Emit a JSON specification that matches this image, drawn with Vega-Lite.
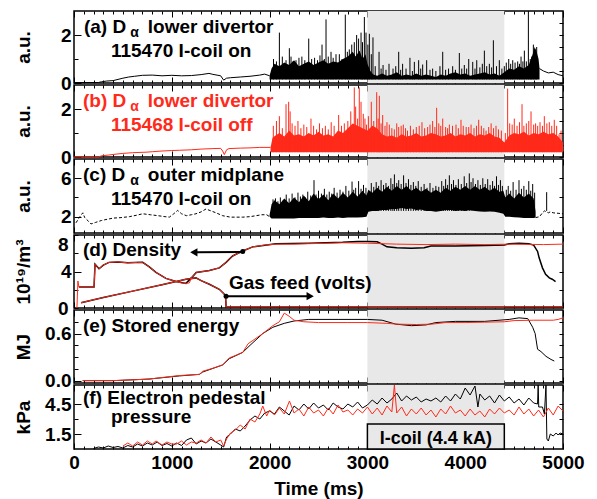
{
"$schema":"https://vega.github.io/schema/vega-lite/v6.json",
"padding":{"left":13,"top":9,"right":5,"bottom":5},
"bounds":"flush",
"spacing":2,
"config":{"view":{"stroke":"#000","strokeWidth":1.5},"font":"Liberation Sans",
"axis":{"labelFont":"Liberation Sans","labelFontSize":19,"labelFontWeight":"bold","labelColor":"#000","titleFont":"Liberation Sans","titleFontSize":19,"titleFontWeight":"bold","titleColor":"#000","domain":false,"grid":false,"tickColor":"#000","tickWidth":1,"labelOverlap":false,"labelFlush":false}},
"datasets":{
"a_ln":[{"t":0,"v":0.02,"g":1},{"t":250,"v":0.02,"g":1},{"t":280,"v":0.05,"g":1},{"t":330,"v":0.08,"g":1},{"t":400,"v":0.1,"g":1},{"t":450,"v":0.15,"g":1},{"t":500,"v":0.2,"g":1},{"t":560,"v":0.25,"g":1},{"t":620,"v":0.28,"g":1},{"t":700,"v":0.32,"g":1},{"t":800,"v":0.33,"g":1},{"t":900,"v":0.3,"g":1},{"t":1000,"v":0.32,"g":1},{"t":1100,"v":0.3,"g":1},{"t":1200,"v":0.31,"g":1},{"t":1300,"v":0.35,"g":1},{"t":1380,"v":0.4,"g":1},{"t":1420,"v":0.36,"g":1},{"t":1500,"v":0.3,"g":1},{"t":1530,"v":0.12,"g":1},{"t":1560,"v":0.2,"g":1},{"t":1600,"v":0.22,"g":1},{"t":1700,"v":0.25,"g":1},{"t":1800,"v":0.28,"g":1},{"t":1900,"v":0.33,"g":1},{"t":1950,"v":0.37,"g":1},{"t":2000,"v":0.3,"g":1},{"t":4760,"v":0.6,"g":2},{"t":4800,"v":0.5,"g":2},{"t":4850,"v":0.42,"g":2},{"t":4900,"v":0.45,"g":2},{"t":4950,"v":0.35,"g":2},{"t":5000,"v":0.3,"g":2}],
"a_bd":[{"t":2000,"v":0.3},{"t":2020,"v":0.6},{"t":2050,"v":0.8},{"t":2100,"v":0.7},{"t":2150,"v":0.85},{"t":2200,"v":0.75},{"t":2250,"v":0.95},{"t":2300,"v":0.7},{"t":2350,"v":0.8},{"t":2400,"v":0.9},{"t":2450,"v":0.75},{"t":2500,"v":0.85},{"t":2550,"v":0.95},{"t":2600,"v":0.8},{"t":2650,"v":0.9},{"t":2700,"v":0.85},{"t":2750,"v":1.0},{"t":2800,"v":1.1},{"t":2850,"v":1.3},{"t":2880,"v":1.1},{"t":2920,"v":1.35},{"t":2950,"v":1.0},{"t":2980,"v":1.2},{"t":3000,"v":0.8},{"t":3030,"v":0.5},{"t":3060,"v":0.35},{"t":3100,"v":0.3},{"t":3150,"v":0.4},{"t":3200,"v":0.3},{"t":3250,"v":0.35},{"t":3300,"v":0.45},{"t":3350,"v":0.3},{"t":3400,"v":0.35},{"t":3450,"v":0.3},{"t":3500,"v":0.4},{"t":3550,"v":0.3},{"t":3600,"v":0.35},{"t":3650,"v":0.3},{"t":3700,"v":0.25},{"t":3750,"v":0.35},{"t":3800,"v":0.3},{"t":3850,"v":0.4},{"t":3900,"v":0.45},{"t":3950,"v":0.35},{"t":4000,"v":0.4},{"t":4050,"v":0.3},{"t":4100,"v":0.35},{"t":4150,"v":0.4},{"t":4200,"v":0.45},{"t":4250,"v":0.35},{"t":4300,"v":0.4},{"t":4350,"v":0.3},{"t":4400,"v":0.45},{"t":4450,"v":0.6},{"t":4500,"v":0.55},{"t":4550,"v":0.7},{"t":4600,"v":0.6},{"t":4650,"v":0.75},{"t":4690,"v":1.2},{"t":4710,"v":1.5},{"t":4730,"v":1.3},{"t":4750,"v":1.0},{"t":4760,"v":0.6}],
"a_sp":[{"t":2040,"h":1.0},{"t":2070,"h":0.9},{"t":2100,"h":2.1},{"t":2130,"h":1.1},{"t":2168,"h":0.95},{"t":2202,"h":1.45},{"t":2219,"h":1.1},{"t":2240,"h":0.9},{"t":2270,"h":0.95},{"t":2300,"h":1.05},{"t":2330,"h":1.1},{"t":2360,"h":0.95},{"t":2400,"h":1.85},{"t":2430,"h":1.0},{"t":2460,"h":1.05},{"t":2490,"h":0.95},{"t":2515,"h":1.15},{"t":2536,"h":1.6},{"t":2560,"h":1.0},{"t":2577,"h":2.65},{"t":2600,"h":1.1},{"t":2628,"h":1.3},{"t":2650,"h":1.05},{"t":2679,"h":1.2},{"t":2713,"h":1.2},{"t":2740,"h":1.0},{"t":2774,"h":2.85},{"t":2795,"h":1.3},{"t":2815,"h":1.4},{"t":2840,"h":1.6},{"t":2866,"h":1.7},{"t":2890,"h":2.0},{"t":2910,"h":1.85},{"t":2935,"h":2.1},{"t":2950,"h":1.7},{"t":2969,"h":2.75},{"t":2986,"h":2.1},{"t":3005,"h":1.6},{"t":3020,"h":2.05},{"t":3040,"h":1.2},{"t":3057,"h":1.9},{"t":3080,"h":0.7},{"t":3119,"h":1.3},{"t":3140,"h":0.6},{"t":3160,"h":0.75},{"t":3190,"h":0.55},{"t":3221,"h":0.8},{"t":3262,"h":0.6},{"t":3290,"h":0.7},{"t":3320,"h":1.3},{"t":3340,"h":0.55},{"t":3360,"h":0.8},{"t":3395,"h":0.6},{"t":3435,"h":1.05},{"t":3460,"h":0.5},{"t":3480,"h":0.88},{"t":3524,"h":0.95},{"t":3545,"h":0.6},{"t":3565,"h":0.77},{"t":3606,"h":0.95},{"t":3640,"h":0.55},{"t":3667,"h":0.6},{"t":3700,"h":0.5},{"t":3742,"h":0.7},{"t":3770,"h":1.3},{"t":3800,"h":0.55},{"t":3830,"h":0.6},{"t":3872,"h":0.7},{"t":3900,"h":0.55},{"t":3940,"h":1.25},{"t":3965,"h":0.6},{"t":3991,"h":0.75},{"t":4015,"h":0.6},{"t":4036,"h":1.0},{"t":4077,"h":0.88},{"t":4100,"h":0.6},{"t":4118,"h":0.95},{"t":4150,"h":0.65},{"t":4175,"h":0.8},{"t":4196,"h":1.35},{"t":4220,"h":0.7},{"t":4247,"h":0.8},{"t":4270,"h":0.65},{"t":4288,"h":1.78},{"t":4320,"h":0.7},{"t":4349,"h":0.95},{"t":4375,"h":0.6},{"t":4400,"h":0.7},{"t":4420,"h":0.85},{"t":4445,"h":1.0},{"t":4465,"h":0.8},{"t":4486,"h":0.95},{"t":4510,"h":0.85},{"t":4537,"h":0.9},{"t":4555,"h":0.8},{"t":4571,"h":1.1},{"t":4590,"h":0.9},{"t":4605,"h":1.35},{"t":4625,"h":0.9},{"t":4646,"h":3.0},{"t":4665,"h":1.0},{"t":4680,"h":1.1},{"t":4697,"h":1.6},{"t":4715,"h":1.4},{"t":4731,"h":1.5}],
"b_ln":[{"t":0,"v":0.0},{"t":250,"v":0.0},{"t":280,"v":0.05},{"t":350,"v":0.08},{"t":430,"v":0.12},{"t":500,"v":0.15},{"t":600,"v":0.18},{"t":736,"v":0.2},{"t":800,"v":0.22},{"t":900,"v":0.25},{"t":1000,"v":0.27},{"t":1077,"v":0.28},{"t":1200,"v":0.3},{"t":1300,"v":0.33},{"t":1420,"v":0.35},{"t":1500,"v":0.36},{"t":1520,"v":0.25},{"t":1537,"v":0.1},{"t":1560,"v":0.3},{"t":1585,"v":0.35},{"t":1700,"v":0.37},{"t":1800,"v":0.38},{"t":1900,"v":0.4},{"t":2010,"v":0.4}],
"b_bd":[{"t":2010,"v":0.4},{"t":2030,"v":0.8},{"t":2060,"v":0.9},{"t":2100,"v":1.0},{"t":2150,"v":0.85},{"t":2200,"v":1.1},{"t":2250,"v":0.9},{"t":2300,"v":0.95},{"t":2350,"v":0.85},{"t":2400,"v":1.0},{"t":2450,"v":0.9},{"t":2500,"v":1.05},{"t":2550,"v":0.9},{"t":2600,"v":0.95},{"t":2650,"v":0.85},{"t":2700,"v":1.1},{"t":2750,"v":1.0},{"t":2800,"v":1.2},{"t":2850,"v":1.4},{"t":2900,"v":1.3},{"t":2950,"v":1.2},{"t":3000,"v":1.1},{"t":3050,"v":1.3},{"t":3100,"v":1.2},{"t":3150,"v":0.95},{"t":3200,"v":0.85},{"t":3250,"v":0.9},{"t":3300,"v":0.8},{"t":3350,"v":0.95},{"t":3400,"v":0.85},{"t":3450,"v":0.9},{"t":3500,"v":1.0},{"t":3550,"v":0.85},{"t":3600,"v":0.9},{"t":3650,"v":1.0},{"t":3700,"v":0.95},{"t":3750,"v":0.85},{"t":3800,"v":0.9},{"t":3850,"v":1.0},{"t":3900,"v":0.85},{"t":3950,"v":0.95},{"t":4000,"v":0.9},{"t":4050,"v":1.0},{"t":4100,"v":0.85},{"t":4150,"v":0.95},{"t":4200,"v":0.9},{"t":4250,"v":1.0},{"t":4300,"v":0.85},{"t":4350,"v":0.8},{"t":4400,"v":0.6},{"t":4450,"v":0.9},{"t":4500,"v":1.0},{"t":4550,"v":0.95},{"t":4600,"v":1.05},{"t":4650,"v":0.9},{"t":4700,"v":1.0},{"t":4750,"v":0.95},{"t":4800,"v":1.05},{"t":4850,"v":0.95},{"t":4900,"v":1.0},{"t":4950,"v":0.85},{"t":5000,"v":0.6}],
"b_sp":[{"t":2038,"h":1.3},{"t":2070,"h":1.5},{"t":2100,"h":1.7},{"t":2130,"h":1.2},{"t":2168,"h":2.2},{"t":2195,"h":2.3},{"t":2210,"h":1.9},{"t":2230,"h":1.4},{"t":2260,"h":1.3},{"t":2290,"h":1.5},{"t":2320,"h":1.2},{"t":2350,"h":1.35},{"t":2380,"h":1.25},{"t":2423,"h":1.6},{"t":2450,"h":1.3},{"t":2480,"h":1.15},{"t":2510,"h":1.4},{"t":2540,"h":1.2},{"t":2570,"h":1.3},{"t":2600,"h":1.15},{"t":2630,"h":1.45},{"t":2660,"h":1.3},{"t":2706,"h":1.75},{"t":2735,"h":1.3},{"t":2764,"h":1.4},{"t":2800,"h":1.5},{"t":2830,"h":1.9},{"t":2866,"h":2.9},{"t":2880,"h":2.1},{"t":2900,"h":1.6},{"t":2917,"h":2.9},{"t":2935,"h":2.3},{"t":2958,"h":1.8},{"t":2975,"h":1.6},{"t":2990,"h":1.35},{"t":3010,"h":1.7},{"t":3040,"h":2.3},{"t":3065,"h":1.5},{"t":3095,"h":2.7},{"t":3110,"h":1.6},{"t":3122,"h":2.55},{"t":3140,"h":1.4},{"t":3156,"h":1.75},{"t":3180,"h":1.3},{"t":3200,"h":1.45},{"t":3224,"h":1.35},{"t":3250,"h":1.2},{"t":3275,"h":1.15},{"t":3300,"h":1.4},{"t":3320,"h":1.25},{"t":3345,"h":1.3},{"t":3367,"h":1.35},{"t":3390,"h":1.2},{"t":3410,"h":1.1},{"t":3440,"h":1.3},{"t":3470,"h":1.15},{"t":3500,"h":1.25},{"t":3530,"h":1.3},{"t":3558,"h":1.45},{"t":3585,"h":1.2},{"t":3616,"h":1.25},{"t":3640,"h":1.35},{"t":3667,"h":1.5},{"t":3690,"h":1.25},{"t":3708,"h":2.05},{"t":3730,"h":1.4},{"t":3750,"h":1.3},{"t":3770,"h":1.6},{"t":3800,"h":1.25},{"t":3820,"h":1.2},{"t":3838,"h":1.35},{"t":3870,"h":1.3},{"t":3906,"h":1.35},{"t":3930,"h":1.2},{"t":3957,"h":1.55},{"t":3980,"h":1.3},{"t":4010,"h":1.25},{"t":4036,"h":1.25},{"t":4060,"h":1.35},{"t":4090,"h":1.2},{"t":4115,"h":1.3},{"t":4138,"h":1.55},{"t":4165,"h":1.3},{"t":4190,"h":1.2},{"t":4213,"h":1.1},{"t":4240,"h":1.25},{"t":4265,"h":1.4},{"t":4290,"h":1.2},{"t":4315,"h":1.3},{"t":4340,"h":1.15},{"t":4370,"h":1.1},{"t":4410,"h":1.0},{"t":4434,"h":2.85},{"t":4455,"h":1.4},{"t":4480,"h":1.35},{"t":4502,"h":1.6},{"t":4530,"h":1.3},{"t":4555,"h":1.45},{"t":4581,"h":2.2},{"t":4600,"h":1.3},{"t":4625,"h":1.4},{"t":4650,"h":1.5},{"t":4673,"h":1.9},{"t":4700,"h":1.35},{"t":4720,"h":1.4},{"t":4741,"h":1.3},{"t":4765,"h":1.45},{"t":4790,"h":1.3},{"t":4809,"h":1.7},{"t":4835,"h":1.4},{"t":4860,"h":1.45},{"t":4885,"h":1.3},{"t":4911,"h":1.55},{"t":4935,"h":1.3},{"t":4960,"h":0.95},{"t":4980,"h":1.1}],
"c_ln":[{"t":20,"v":1.36,"g":1},{"t":60,"v":2.0,"g":1},{"t":90,"v":2.4,"g":1},{"t":110,"v":1.9,"g":1},{"t":150,"v":1.5,"g":1},{"t":174,"v":1.24,"g":1},{"t":220,"v":1.4,"g":1},{"t":280,"v":1.6,"g":1},{"t":327,"v":1.7,"g":1},{"t":400,"v":1.85,"g":1},{"t":480,"v":1.9,"g":1},{"t":566,"v":2.0,"g":1},{"t":640,"v":2.15,"g":1},{"t":702,"v":2.3,"g":1},{"t":780,"v":2.2,"g":1},{"t":860,"v":2.1,"g":1},{"t":930,"v":2.0,"g":1},{"t":975,"v":1.95,"g":1},{"t":1020,"v":2.3,"g":1},{"t":1060,"v":2.65,"g":1},{"t":1100,"v":2.3,"g":1},{"t":1150,"v":2.1,"g":1},{"t":1200,"v":2.2,"g":1},{"t":1247,"v":2.3,"g":1},{"t":1300,"v":2.5,"g":1},{"t":1350,"v":2.8,"g":1},{"t":1400,"v":2.6,"g":1},{"t":1452,"v":2.4,"g":1},{"t":1520,"v":2.1,"g":1},{"t":1600,"v":1.95,"g":1},{"t":1725,"v":1.95,"g":1},{"t":1800,"v":2.0,"g":1},{"t":1861,"v":2.1,"g":1},{"t":1920,"v":2.2,"g":1},{"t":1970,"v":2.2,"g":1},{"t":2000,"v":2.0,"g":1},{"t":4720,"v":1.9,"g":2},{"t":4760,"v":2.0,"g":2},{"t":4790,"v":2.4,"g":2},{"t":4810,"v":2.6,"g":2},{"t":4830,"v":2.5,"g":2},{"t":4850,"v":2.4,"g":2},{"t":4870,"v":2.5,"g":2},{"t":4900,"v":2.4,"g":2},{"t":4950,"v":2.35,"g":2},{"t":5000,"v":2.3,"g":2}],
"c_bd":[{"t":2000,"lo":2.0,"hi":2.2},{"t":2020,"lo":1.8,"hi":3.3},{"t":2050,"lo":1.8,"hi":3.7},{"t":2100,"lo":1.8,"hi":3.3},{"t":2150,"lo":1.8,"hi":3.9},{"t":2200,"lo":1.8,"hi":3.4},{"t":2250,"lo":1.8,"hi":4.0},{"t":2300,"lo":1.85,"hi":3.5},{"t":2350,"lo":1.85,"hi":4.2},{"t":2400,"lo":1.85,"hi":3.6},{"t":2450,"lo":1.85,"hi":4.4},{"t":2500,"lo":1.85,"hi":3.8},{"t":2550,"lo":1.9,"hi":4.3},{"t":2600,"lo":1.85,"hi":3.7},{"t":2650,"lo":1.85,"hi":4.4},{"t":2700,"lo":1.9,"hi":3.9},{"t":2750,"lo":1.85,"hi":4.5},{"t":2800,"lo":1.9,"hi":4.0},{"t":2850,"lo":1.9,"hi":4.6},{"t":2900,"lo":1.9,"hi":4.1},{"t":2950,"lo":1.95,"hi":4.7},{"t":2990,"lo":2.0,"hi":4.2},{"t":3010,"lo":2.5,"hi":4.8},{"t":3050,"lo":2.6,"hi":4.5},{"t":3100,"lo":2.6,"hi":5.0},{"t":3150,"lo":2.7,"hi":4.6},{"t":3200,"lo":2.7,"hi":5.1},{"t":3250,"lo":2.8,"hi":4.7},{"t":3300,"lo":2.8,"hi":5.2},{"t":3350,"lo":2.9,"hi":4.8},{"t":3400,"lo":2.8,"hi":5.2},{"t":3450,"lo":2.85,"hi":4.7},{"t":3500,"lo":2.7,"hi":5.0},{"t":3550,"lo":2.75,"hi":4.6},{"t":3600,"lo":2.6,"hi":4.9},{"t":3650,"lo":2.6,"hi":4.5},{"t":3700,"lo":2.5,"hi":4.8},{"t":3750,"lo":2.6,"hi":4.5},{"t":3800,"lo":2.7,"hi":5.0},{"t":3850,"lo":2.7,"hi":4.7},{"t":3900,"lo":2.6,"hi":5.1},{"t":3950,"lo":2.65,"hi":4.8},{"t":4000,"lo":2.6,"hi":5.2},{"t":4050,"lo":2.7,"hi":4.8},{"t":4100,"lo":2.6,"hi":5.2},{"t":4150,"lo":2.55,"hi":4.8},{"t":4200,"lo":2.5,"hi":5.1},{"t":4250,"lo":2.55,"hi":4.7},{"t":4300,"lo":2.5,"hi":5.0},{"t":4350,"lo":2.4,"hi":4.6},{"t":4390,"lo":2.3,"hi":4.7},{"t":4410,"lo":2.0,"hi":4.0},{"t":4450,"lo":2.0,"hi":4.4},{"t":4500,"lo":1.95,"hi":3.9},{"t":4550,"lo":1.9,"hi":4.5},{"t":4600,"lo":1.85,"hi":4.0},{"t":4650,"lo":1.85,"hi":4.4},{"t":4700,"lo":1.85,"hi":3.9},{"t":4720,"lo":1.9,"hi":2.5}],
"c_sp":[{"t":2035,"h":3.8},{"t":2060,"h":3.9},{"t":2085,"h":3.6},{"t":2110,"h":4.0},{"t":2140,"h":3.7},{"t":2170,"h":4.3},{"t":2200,"h":3.9},{"t":2230,"h":4.4},{"t":2260,"h":4.0},{"t":2290,"h":4.5},{"t":2315,"h":4.1},{"t":2340,"h":4.3},{"t":2365,"h":4.0},{"t":2390,"h":4.6},{"t":2420,"h":4.2},{"t":2454,"h":5.8},{"t":2475,"h":4.3},{"t":2500,"h":4.7},{"t":2530,"h":4.4},{"t":2560,"h":4.9},{"t":2585,"h":4.3},{"t":2610,"h":4.6},{"t":2635,"h":4.4},{"t":2660,"h":5.0},{"t":2690,"h":4.5},{"t":2720,"h":4.8},{"t":2750,"h":4.6},{"t":2780,"h":5.2},{"t":2810,"h":4.7},{"t":2843,"h":5.65},{"t":2860,"h":4.8},{"t":2880,"h":5.0},{"t":2910,"h":5.7},{"t":2935,"h":4.9},{"t":2960,"h":5.3},{"t":2985,"h":5.0},{"t":3040,"h":5.5},{"t":3065,"h":5.1},{"t":3090,"h":5.6},{"t":3115,"h":5.2},{"t":3140,"h":5.8},{"t":3165,"h":5.3},{"t":3190,"h":5.5},{"t":3215,"h":5.2},{"t":3240,"h":6.0},{"t":3260,"h":5.4},{"t":3276,"h":6.4},{"t":3300,"h":5.5},{"t":3320,"h":5.8},{"t":3345,"h":5.4},{"t":3370,"h":6.3},{"t":3395,"h":5.5},{"t":3420,"h":5.9},{"t":3445,"h":5.3},{"t":3470,"h":5.6},{"t":3495,"h":5.2},{"t":3520,"h":5.7},{"t":3550,"h":5.1},{"t":3580,"h":5.4},{"t":3610,"h":5.0},{"t":3640,"h":5.5},{"t":3670,"h":5.0},{"t":3700,"h":5.2},{"t":3730,"h":5.1},{"t":3760,"h":5.7},{"t":3780,"h":5.2},{"t":3800,"h":5.9},{"t":3820,"h":5.3},{"t":3838,"h":6.3},{"t":3860,"h":5.4},{"t":3880,"h":5.8},{"t":3905,"h":5.3},{"t":3930,"h":5.9},{"t":3960,"h":5.4},{"t":3990,"h":6.2},{"t":4015,"h":5.5},{"t":4042,"h":6.5},{"t":4060,"h":5.6},{"t":4080,"h":6.0},{"t":4105,"h":5.4},{"t":4130,"h":5.8},{"t":4155,"h":5.3},{"t":4180,"h":6.0},{"t":4205,"h":5.4},{"t":4230,"h":5.9},{"t":4255,"h":5.3},{"t":4280,"h":5.7},{"t":4300,"h":5.2},{"t":4320,"h":6.2},{"t":4340,"h":5.3},{"t":4360,"h":5.8},{"t":4380,"h":5.2},{"t":4420,"h":4.8},{"t":4440,"h":5.2},{"t":4465,"h":4.7},{"t":4490,"h":5.6},{"t":4520,"h":4.8},{"t":4550,"h":5.8},{"t":4575,"h":4.9},{"t":4600,"h":5.2},{"t":4625,"h":4.8},{"t":4650,"h":5.7},{"t":4670,"h":4.7},{"t":4690,"h":5.4},{"t":4710,"h":4.5},{"t":4833,"h":4.55}],
"d_nr":[{"t":30,"v":0.0},{"t":40,"v":2.96},{"t":50,"v":2.3},{"t":205,"v":2.3},{"t":215,"v":4.8},{"t":256,"v":4.3},{"t":300,"v":4.7},{"t":358,"v":5.0},{"t":450,"v":5.05},{"t":550,"v":4.95},{"t":650,"v":5.0},{"t":702,"v":5.0},{"t":770,"v":4.5},{"t":838,"v":3.9},{"t":940,"v":3.25},{"t":1043,"v":2.9},{"t":1100,"v":2.75},{"t":1145,"v":2.7},{"t":1180,"v":2.75},{"t":1200,"v":3.3},{"t":1215,"v":3.5},{"t":1250,"v":3.9},{"t":1320,"v":4.0},{"t":1384,"v":4.1},{"t":1486,"v":4.4},{"t":1555,"v":5.0},{"t":1622,"v":5.7},{"t":1725,"v":6.25},{"t":1827,"v":6.7},{"t":1950,"v":6.9},{"t":2065,"v":7.0},{"t":2250,"v":7.0},{"t":2406,"v":7.05},{"t":2600,"v":7.1},{"t":2747,"v":7.15},{"t":3000,"v":7.1},{"t":3300,"v":7.0},{"t":3600,"v":6.95},{"t":3900,"v":7.0},{"t":4200,"v":6.95},{"t":4500,"v":7.0},{"t":4800,"v":6.95},{"t":5000,"v":7.0}],
"d_nk":[{"t":50,"v":2.3},{"t":205,"v":2.3},{"t":215,"v":4.8},{"t":256,"v":4.3},{"t":300,"v":4.7},{"t":358,"v":5.0},{"t":450,"v":5.05},{"t":550,"v":4.95},{"t":702,"v":5.0},{"t":770,"v":4.5},{"t":838,"v":3.9},{"t":940,"v":3.25},{"t":1043,"v":2.9},{"t":1145,"v":2.7},{"t":1200,"v":3.3},{"t":1250,"v":3.9},{"t":1384,"v":4.1},{"t":1486,"v":4.4},{"t":1555,"v":5.0},{"t":1622,"v":5.7},{"t":1725,"v":6.25},{"t":1827,"v":6.7},{"t":2065,"v":7.05},{"t":2406,"v":7.1},{"t":2747,"v":7.2},{"t":2900,"v":7.3},{"t":3000,"v":7.3},{"t":3100,"v":7.25},{"t":3150,"v":7.0},{"t":3200,"v":6.7},{"t":3300,"v":6.6},{"t":3450,"v":6.55},{"t":3580,"v":6.6},{"t":3650,"v":6.8},{"t":3900,"v":6.8},{"t":4200,"v":6.85},{"t":4400,"v":6.9},{"t":4450,"v":7.05},{"t":4550,"v":7.1},{"t":4650,"v":7.05},{"t":4700,"v":6.9},{"t":4740,"v":6.2},{"t":4756,"v":5.5},{"t":4790,"v":4.4},{"t":4822,"v":3.7},{"t":4860,"v":3.3},{"t":4890,"v":3.15},{"t":4924,"v":2.9}],
"d_g":[{"t":72,"v":0.58},{"t":300,"v":1.15},{"t":600,"v":1.85},{"t":900,"v":2.55},{"t":1145,"v":3.15},{"t":1247,"v":3.3},{"t":1300,"v":3.0},{"t":1384,"v":2.6},{"t":1486,"v":2.05},{"t":1537,"v":1.5},{"t":1550,"v":1.3},{"t":1555,"v":0.12},{"t":5000,"v":0.12}],
"e_r":[{"t":89,"v":0.0},{"t":395,"v":0.0},{"t":600,"v":0.01},{"t":767,"v":0.02},{"t":900,"v":0.04},{"t":1077,"v":0.065},{"t":1282,"v":0.08},{"t":1316,"v":0.12},{"t":1400,"v":0.15},{"t":1520,"v":0.2},{"t":1588,"v":0.29},{"t":1650,"v":0.32},{"t":1725,"v":0.36},{"t":1780,"v":0.47},{"t":1850,"v":0.53},{"t":1930,"v":0.6},{"t":2033,"v":0.7},{"t":2100,"v":0.75},{"t":2150,"v":0.86},{"t":2200,"v":0.82},{"t":2250,"v":0.77},{"t":2350,"v":0.75},{"t":2500,"v":0.74},{"t":2800,"v":0.74},{"t":3000,"v":0.74},{"t":3200,"v":0.73},{"t":3300,"v":0.72},{"t":3500,"v":0.715},{"t":3660,"v":0.72},{"t":3800,"v":0.74},{"t":4000,"v":0.74},{"t":4200,"v":0.745},{"t":4400,"v":0.75},{"t":4500,"v":0.765},{"t":4700,"v":0.77},{"t":4900,"v":0.77},{"t":4950,"v":0.78},{"t":5000,"v":0.8}],
"e_k":[{"t":89,"v":0.0},{"t":400,"v":0.0},{"t":767,"v":0.02},{"t":1077,"v":0.06},{"t":1282,"v":0.08},{"t":1316,"v":0.11},{"t":1520,"v":0.2},{"t":1588,"v":0.28},{"t":1725,"v":0.36},{"t":1800,"v":0.45},{"t":1930,"v":0.6},{"t":2033,"v":0.68},{"t":2150,"v":0.73},{"t":2250,"v":0.76},{"t":2400,"v":0.78},{"t":2700,"v":0.78},{"t":3000,"v":0.78},{"t":3150,"v":0.77},{"t":3290,"v":0.72},{"t":3450,"v":0.7},{"t":3600,"v":0.71},{"t":3700,"v":0.74},{"t":3900,"v":0.755},{"t":4200,"v":0.755},{"t":4450,"v":0.78},{"t":4550,"v":0.8},{"t":4640,"v":0.79},{"t":4690,"v":0.68},{"t":4715,"v":0.6},{"t":4740,"v":0.4},{"t":4775,"v":0.37},{"t":4826,"v":0.31},{"t":4877,"v":0.27},{"t":4911,"v":0.25}],
"f_k":[{"t":200,"v":0.05},{"t":250,"v":0.2},{"t":300,"v":0.1},{"t":350,"v":0.3},{"t":400,"v":0.15},{"t":450,"v":0.25},{"t":500,"v":0.1},{"t":550,"v":0.35},{"t":600,"v":0.2},{"t":650,"v":0.5},{"t":700,"v":0.3},{"t":750,"v":0.6},{"t":800,"v":0.4},{"t":850,"v":0.7},{"t":900,"v":0.35},{"t":950,"v":0.55},{"t":1000,"v":0.3},{"t":1050,"v":0.6},{"t":1100,"v":0.35},{"t":1150,"v":0.9},{"t":1200,"v":1.1},{"t":1250,"v":0.5},{"t":1300,"v":0.8},{"t":1350,"v":0.6},{"t":1400,"v":1.0},{"t":1450,"v":0.7},{"t":1500,"v":0.4},{"t":1530,"v":0.2},{"t":1560,"v":1.2},{"t":1600,"v":1.5},{"t":1650,"v":2.0},{"t":1700,"v":1.8},{"t":1750,"v":2.3},{"t":1800,"v":2.9},{"t":1850,"v":3.3},{"t":1900,"v":3.0},{"t":1950,"v":3.6},{"t":2000,"v":3.8},{"t":2050,"v":3.5},{"t":2100,"v":4.2},{"t":2150,"v":3.8},{"t":2200,"v":3.4},{"t":2250,"v":4.3},{"t":2300,"v":3.9},{"t":2350,"v":4.5},{"t":2400,"v":4.0},{"t":2450,"v":4.6},{"t":2500,"v":4.1},{"t":2550,"v":4.4},{"t":2600,"v":3.9},{"t":2650,"v":4.6},{"t":2700,"v":4.2},{"t":2750,"v":4.0},{"t":2800,"v":4.5},{"t":2850,"v":4.2},{"t":2900,"v":4.7},{"t":2950,"v":4.1},{"t":3000,"v":4.4},{"t":3050,"v":4.9},{"t":3100,"v":4.5},{"t":3150,"v":5.1},{"t":3200,"v":4.6},{"t":3250,"v":5.0},{"t":3300,"v":5.6},{"t":3350,"v":4.8},{"t":3400,"v":5.3},{"t":3450,"v":4.9},{"t":3500,"v":5.2},{"t":3550,"v":4.7},{"t":3600,"v":5.0},{"t":3650,"v":4.8},{"t":3700,"v":5.1},{"t":3750,"v":4.7},{"t":3800,"v":5.3},{"t":3850,"v":4.8},{"t":3900,"v":5.5},{"t":3950,"v":5.0},{"t":4000,"v":6.1},{"t":4050,"v":5.4},{"t":4100,"v":6.3},{"t":4130,"v":4.2},{"t":4150,"v":5.5},{"t":4200,"v":4.9},{"t":4250,"v":5.3},{"t":4300,"v":4.6},{"t":4350,"v":5.4},{"t":4400,"v":4.8},{"t":4450,"v":5.2},{"t":4500,"v":4.6},{"t":4550,"v":5.0},{"t":4600,"v":4.4},{"t":4650,"v":5.1},{"t":4700,"v":4.6},{"t":4740,"v":4.5},{"t":4746,"v":6.4},{"t":4752,"v":4.2},{"t":4790,"v":4.2},{"t":4810,"v":3.5},{"t":4826,"v":6.4},{"t":4835,"v":1.0},{"t":4850,"v":0.8},{"t":4870,"v":1.5},{"t":4900,"v":1.3},{"t":4930,"v":1.6},{"t":4950,"v":1.4},{"t":4970,"v":1.6},{"t":5000,"v":1.5}],
"f_r":[{"t":500,"v":0.3},{"t":550,"v":0.6},{"t":600,"v":0.3},{"t":650,"v":0.7},{"t":700,"v":0.4},{"t":750,"v":0.8},{"t":800,"v":0.5},{"t":838,"v":0.8},{"t":900,"v":0.4},{"t":950,"v":0.7},{"t":1000,"v":0.5},{"t":1050,"v":0.5},{"t":1100,"v":0.8},{"t":1150,"v":0.4},{"t":1200,"v":0.7},{"t":1250,"v":0.6},{"t":1300,"v":0.9},{"t":1350,"v":0.6},{"t":1400,"v":1.2},{"t":1450,"v":0.7},{"t":1500,"v":0.9},{"t":1530,"v":0.3},{"t":1560,"v":1.0},{"t":1600,"v":1.6},{"t":1650,"v":1.9},{"t":1700,"v":2.4},{"t":1750,"v":2.0},{"t":1800,"v":3.0},{"t":1850,"v":2.7},{"t":1900,"v":3.5},{"t":1930,"v":4.3},{"t":1970,"v":3.3},{"t":2000,"v":3.9},{"t":2050,"v":3.4},{"t":2100,"v":4.1},{"t":2150,"v":3.5},{"t":2203,"v":4.8},{"t":2250,"v":3.6},{"t":2300,"v":4.0},{"t":2350,"v":3.3},{"t":2400,"v":4.2},{"t":2450,"v":3.6},{"t":2500,"v":3.9},{"t":2550,"v":3.3},{"t":2600,"v":4.1},{"t":2650,"v":3.5},{"t":2700,"v":4.4},{"t":2750,"v":3.7},{"t":2800,"v":3.9},{"t":2850,"v":3.4},{"t":2900,"v":4.0},{"t":2950,"v":3.6},{"t":3000,"v":4.2},{"t":3050,"v":3.5},{"t":3100,"v":4.1},{"t":3150,"v":3.4},{"t":3200,"v":4.3},{"t":3250,"v":3.7},{"t":3276,"v":6.4},{"t":3300,"v":3.6},{"t":3350,"v":4.2},{"t":3400,"v":3.3},{"t":3450,"v":4.0},{"t":3500,"v":3.5},{"t":3550,"v":4.1},{"t":3600,"v":3.4},{"t":3650,"v":3.9},{"t":3700,"v":3.2},{"t":3750,"v":4.0},{"t":3800,"v":3.5},{"t":3850,"v":4.3},{"t":3900,"v":3.6},{"t":3950,"v":3.9},{"t":4000,"v":3.3},{"t":4050,"v":4.0},{"t":4100,"v":3.4},{"t":4150,"v":3.8},{"t":4200,"v":3.2},{"t":4250,"v":4.0},{"t":4300,"v":3.5},{"t":4350,"v":4.1},{"t":4400,"v":3.6},{"t":4450,"v":3.9},{"t":4500,"v":3.4},{"t":4550,"v":4.2},{"t":4600,"v":3.5},{"t":4650,"v":4.0},{"t":4700,"v":3.3},{"t":4750,"v":3.9},{"t":4800,"v":3.2},{"t":4850,"v":4.1},{"t":4900,"v":3.4},{"t":4950,"v":4.3},{"t":5000,"v":3.8}]
},
"vconcat":[
{"width":489,"height":72,"resolve":{"axis":{"x":"independent","y":"independent"}},
"layer":[
{"data":{"values":[{"s":3000,"e":4400}]},"mark":{"type":"rect","color":"#e8e8e8"},"encoding":{"x":{"field":"s","type":"quantitative","scale":{"domain":[0,5000],"nice":false},"axis":{"orient":"bottom","tickCount":50,"labels":false,"title":null,"tickSize":{"condition":{"test":"datum.value % 1000 === 0","value":-6},"value":-3}}},"x2":{"field":"e"}}},
{"data":{"name":"a_bd"},"mark":{"type":"area","color":"#000"},"encoding":{"x":{"field":"t","type":"quantitative","scale":{"domain":[0,5000],"nice":false},"axis":null},"y":{"field":"v","type":"quantitative","scale":{"domain":[0,3],"nice":false,"zero":false},"axis":{"orient":"left","values":[0,0.5,1,1.5,2,2.5],"format":"d","labelExpr":"datum.value == 0 || datum.value == 2 ? datum.label : ''","tickSize":{"condition":{"test":"datum.value == 0 || datum.value == 2","value":-7},"value":-4},"labelPadding":10,"title":"a.u.","titleX":-41}},"y2":{"datum":0.15}}},
{"data":{"name":"a_sp"},"mark":{"type":"rule","color":"#000","strokeWidth":1},"encoding":{"x":{"field":"t","type":"quantitative","axis":null},"y":{"field":"h","type":"quantitative","axis":null},"y2":{"datum":0.15}}},
{"data":{"name":"a_ln"},"mark":{"type":"line","color":"#000","strokeWidth":1},"encoding":{"x":{"field":"t","type":"quantitative","axis":{"orient":"top","tickCount":50,"labels":false,"title":null,"tickSize":{"condition":{"test":"datum.value % 1000 === 0","value":-6},"value":-3}}},"y":{"field":"v","type":"quantitative","axis":{"orient":"right","values":[0,0.5,1,1.5,2,2.5],"labels":false,"title":null,"tickSize":-4}},"detail":{"field":"g"}}},
{"data":{"values":[{"t":102,"v":2.1,"s":"(a) D"},{"t":755,"v":2.1,"s":"lower divertor"},{"t":378,"v":1.1,"s":"115470 I-coil on"}]},"mark":{"type":"text","align":"left","baseline":"alphabetic","fontSize":19,"fontWeight":"bold","font":"Liberation Sans","color":"#000"},"encoding":{"x":{"field":"t","type":"quantitative","axis":null},"y":{"field":"v","type":"quantitative","axis":null},"text":{"field":"s"}}},
{"data":{"values":[{"t":575,"v":2.1,"s":"α"}]},"mark":{"type":"text","align":"left","baseline":"alphabetic","fontSize":14,"fontWeight":"bold","font":"Liberation Sans","color":"#000","dy":4},"encoding":{"x":{"field":"t","type":"quantitative","axis":null},"y":{"field":"v","type":"quantitative","axis":null},"text":{"field":"s"}}}
]},
{"width":489,"height":72,"resolve":{"axis":{"x":"independent","y":"independent"}},
"layer":[
{"data":{"values":[{"s":3000,"e":4400}]},"mark":{"type":"rect","color":"#e8e8e8"},"encoding":{"x":{"field":"s","type":"quantitative","scale":{"domain":[0,5000],"nice":false},"axis":{"orient":"bottom","tickCount":50,"labels":false,"title":null,"tickSize":{"condition":{"test":"datum.value % 1000 === 0","value":-6},"value":-3}}},"x2":{"field":"e"}}},
{"data":{"name":"b_bd"},"mark":{"type":"area","color":"#ff2a1a"},"encoding":{"x":{"field":"t","type":"quantitative","scale":{"domain":[0,5000],"nice":false},"axis":null},"y":{"field":"v","type":"quantitative","scale":{"domain":[0,3],"nice":false,"zero":false},"axis":{"orient":"left","values":[0,0.5,1,1.5,2,2.5],"format":"d","labelExpr":"datum.value == 0 || datum.value == 2 ? datum.label : ''","tickSize":{"condition":{"test":"datum.value == 0 || datum.value == 2","value":-7},"value":-4},"labelPadding":10,"title":"a.u.","titleX":-41}},"y2":{"datum":0.2}}},
{"data":{"name":"b_sp"},"mark":{"type":"rule","color":"#ff2a1a","strokeWidth":1},"encoding":{"x":{"field":"t","type":"quantitative","axis":null},"y":{"field":"h","type":"quantitative","axis":null},"y2":{"datum":0.2}}},
{"data":{"name":"b_ln"},"mark":{"type":"line","color":"#ff2a1a","strokeWidth":1},"encoding":{"x":{"field":"t","type":"quantitative","axis":{"orient":"top","tickCount":50,"labels":false,"title":null,"tickSize":{"condition":{"test":"datum.value % 1000 === 0","value":-6},"value":-3}}},"y":{"field":"v","type":"quantitative","axis":{"orient":"right","values":[0,0.5,1,1.5,2,2.5],"labels":false,"title":null,"tickSize":-4}}}},
{"data":{"values":[{"t":92,"v":2.08,"s":"(b) D"},{"t":755,"v":2.08,"s":"lower divertor"},{"t":378,"v":1.08,"s":"115468 I-coil off"}]},"mark":{"type":"text","align":"left","baseline":"alphabetic","fontSize":19,"fontWeight":"bold","font":"Liberation Sans","color":"#ff2a1a"},"encoding":{"x":{"field":"t","type":"quantitative","axis":null},"y":{"field":"v","type":"quantitative","axis":null},"text":{"field":"s"}}},
{"data":{"values":[{"t":575,"v":2.08,"s":"α"}]},"mark":{"type":"text","align":"left","baseline":"alphabetic","fontSize":14,"fontWeight":"bold","font":"Liberation Sans","color":"#ff2a1a","dy":4},"encoding":{"x":{"field":"t","type":"quantitative","axis":null},"y":{"field":"v","type":"quantitative","axis":null},"text":{"field":"s"}}}
]},
{"width":489,"height":74,"resolve":{"axis":{"x":"independent","y":"independent"}},
"layer":[
{"data":{"values":[{"s":3000,"e":4400}]},"mark":{"type":"rect","color":"#e8e8e8"},"encoding":{"x":{"field":"s","type":"quantitative","scale":{"domain":[0,5000],"nice":false},"axis":{"orient":"bottom","tickCount":50,"labels":false,"title":null,"tickSize":{"condition":{"test":"datum.value % 1000 === 0","value":-6},"value":-3}}},"x2":{"field":"e"}}},
{"data":{"name":"c_bd"},"mark":{"type":"area","color":"#000"},"encoding":{"x":{"field":"t","type":"quantitative","scale":{"domain":[0,5000],"nice":false},"axis":null},"y":{"field":"hi","type":"quantitative","scale":{"domain":[0.3,8],"nice":false,"zero":false},"axis":{"orient":"left","values":[2,4,6],"format":"d","labelExpr":"datum.value == 2 || datum.value == 6 ? datum.label : ''","tickSize":{"condition":{"test":"datum.value == 2 || datum.value == 6","value":-7},"value":-4},"labelPadding":10,"title":"a.u.","titleX":-41}},"y2":{"field":"lo"}}},
{"data":{"name":"c_sp"},"mark":{"type":"rule","color":"#000","strokeWidth":1},"encoding":{"x":{"field":"t","type":"quantitative","axis":null},"y":{"field":"h","type":"quantitative","axis":null},"y2":{"datum":2.6}}},
{"data":{"name":"c_ln"},"mark":{"type":"line","color":"#000","strokeWidth":1,"strokeDash":[3,2]},"encoding":{"x":{"field":"t","type":"quantitative","axis":{"orient":"top","tickCount":50,"labels":false,"title":null,"tickSize":{"condition":{"test":"datum.value % 1000 === 0","value":-6},"value":-3}}},"y":{"field":"v","type":"quantitative","axis":{"orient":"right","values":[2,4,6],"labels":false,"title":null,"tickSize":-4}},"detail":{"field":"g"}}},
{"data":{"values":[{"t":92,"v":5.71,"s":"(c) D"},{"t":755,"v":5.71,"s":"outer midplane"},{"t":378,"v":3.21,"s":"115470 I-coil on"}]},"mark":{"type":"text","align":"left","baseline":"alphabetic","fontSize":19,"fontWeight":"bold","font":"Liberation Sans","color":"#000"},"encoding":{"x":{"field":"t","type":"quantitative","axis":null},"y":{"field":"v","type":"quantitative","axis":null},"text":{"field":"s"}}},
{"data":{"values":[{"t":575,"v":5.71,"s":"α"}]},"mark":{"type":"text","align":"left","baseline":"alphabetic","fontSize":14,"fontWeight":"bold","font":"Liberation Sans","color":"#000","dy":4},"encoding":{"x":{"field":"t","type":"quantitative","axis":null},"y":{"field":"v","type":"quantitative","axis":null},"text":{"field":"s"}}}
]},
{"width":489,"height":73,"resolve":{"axis":{"x":"independent","y":"independent"}},
"layer":[
{"data":{"values":[{"s":3000,"e":4400}]},"mark":{"type":"rect","color":"#e8e8e8"},"encoding":{"x":{"field":"s","type":"quantitative","scale":{"domain":[0,5000],"nice":false},"axis":{"orient":"bottom","tickCount":50,"labels":false,"title":null,"tickSize":{"condition":{"test":"datum.value % 1000 === 0","value":-6},"value":-3}}},"x2":{"field":"e"}}},
{"data":{"name":"d_g"},"mark":{"type":"line","color":"#000","strokeWidth":1.5},"encoding":{"x":{"field":"t","type":"quantitative","scale":{"domain":[0,5000],"nice":false},"axis":null},"y":{"field":"v","type":"quantitative","scale":{"domain":[0,8],"nice":false,"zero":false},"axis":{"orient":"left","values":[0,2,4,6,8],"format":"d","labelExpr":"datum.value == 0 || datum.value == 4 || datum.value == 8 ? datum.label : ''","labelBaseline":{"condition":{"test":"datum.value == 8","value":"top"},"value":"middle"},"tickSize":{"condition":{"test":"datum.value == 4","value":-7},"value":-4},"labelPadding":10,"title":"10¹⁹/m³","titleX":-41}}}},
{"data":{"name":"d_nk"},"mark":{"type":"line","color":"#000","strokeWidth":1.5},"encoding":{"x":{"field":"t","type":"quantitative","axis":null},"y":{"field":"v","type":"quantitative","axis":null}}},
{"data":{"name":"d_g"},"mark":{"type":"line","color":"#ff2a1a","strokeWidth":1},"encoding":{"x":{"field":"t","type":"quantitative","axis":null},"y":{"field":"v","type":"quantitative","axis":null}}},
{"data":{"name":"d_nr"},"mark":{"type":"line","color":"#ff2a1a","strokeWidth":1},"encoding":{"x":{"field":"t","type":"quantitative","axis":{"orient":"top","tickCount":50,"labels":false,"title":null,"tickSize":{"condition":{"test":"datum.value % 1000 === 0","value":-6},"value":-3}}},"y":{"field":"v","type":"quantitative","axis":{"orient":"right","values":[2,4,6],"labels":false,"title":null,"tickSize":-4}}}},
{"data":{"values":[{"t":1725,"v":6.15,"g":1},{"t":1240,"v":6.1,"g":1},{"t":1555,"v":1.3,"g":2},{"t":2400,"v":1.3,"g":2}]},"mark":{"type":"line","color":"#000","strokeWidth":2},"encoding":{"x":{"field":"t","type":"quantitative","axis":null},"y":{"field":"v","type":"quantitative","axis":null},"detail":{"field":"g"}}},
{"data":{"values":[{"t":1225,"v":6.1,"sh":"triangle-left"},{"t":2415,"v":1.3,"sh":"triangle-right"}]},"mark":{"type":"point","filled":true,"color":"#000","size":70,"opacity":1},"encoding":{"x":{"field":"t","type":"quantitative","axis":null},"y":{"field":"v","type":"quantitative","axis":null},"shape":{"field":"sh","type":"nominal","scale":null}}},
{"data":{"values":[{"t":1725,"v":6.2},{"t":1555,"v":1.3}]},"mark":{"type":"point","filled":true,"color":"#000","size":25,"opacity":1},"encoding":{"x":{"field":"t","type":"quantitative","axis":null},"y":{"field":"v","type":"quantitative","axis":null}}},
{"data":{"values":[{"t":92,"v":5.7,"s":"(d) Density"},{"t":1585,"v":2.08,"s":"Gas feed (volts)"}]},"mark":{"type":"text","align":"left","baseline":"alphabetic","fontSize":19,"fontWeight":"bold","font":"Liberation Sans","color":"#000"},"encoding":{"x":{"field":"t","type":"quantitative","axis":null},"y":{"field":"v","type":"quantitative","axis":null},"text":{"field":"s"}}}
]},
{"width":489,"height":73,"resolve":{"axis":{"x":"independent","y":"independent"}},
"layer":[
{"data":{"values":[{"s":3000,"e":4400}]},"mark":{"type":"rect","color":"#e8e8e8"},"encoding":{"x":{"field":"s","type":"quantitative","scale":{"domain":[0,5000],"nice":false},"axis":{"orient":"bottom","tickCount":50,"labels":false,"title":null,"tickSize":{"condition":{"test":"datum.value % 1000 === 0","value":-6},"value":-3}}},"x2":{"field":"e"}}},
{"data":{"name":"e_k"},"mark":{"type":"line","color":"#000","strokeWidth":1},"encoding":{"x":{"field":"t","type":"quantitative","scale":{"domain":[0,5000],"nice":false},"axis":null},"y":{"field":"v","type":"quantitative","scale":{"domain":[-0.03,0.9],"nice":false,"zero":false},"axis":{"orient":"left","values":[0,0.15,0.3,0.45,0.6,0.75],"format":".1f","labelExpr":"datum.value == 0 || datum.value == 0.6 ? datum.label : ''","tickSize":{"condition":{"test":"datum.value == 0 || datum.value == 0.6","value":-7},"value":-4},"labelPadding":10,"title":"MJ","titleX":-41}}}},
{"data":{"name":"e_r"},"mark":{"type":"line","color":"#ff2a1a","strokeWidth":1},"encoding":{"x":{"field":"t","type":"quantitative","axis":{"orient":"top","tickCount":50,"labels":false,"title":null,"tickSize":{"condition":{"test":"datum.value % 1000 === 0","value":-6},"value":-3}}},"y":{"field":"v","type":"quantitative","axis":{"orient":"right","values":[0,0.15,0.3,0.45,0.6,0.75],"labels":false,"title":null,"tickSize":-4}}}},
{"data":{"values":[{"t":92,"v":0.62,"s":"(e) Stored energy"}]},"mark":{"type":"text","align":"left","baseline":"alphabetic","fontSize":19,"fontWeight":"bold","font":"Liberation Sans","color":"#000"},"encoding":{"x":{"field":"t","type":"quantitative","axis":null},"y":{"field":"v","type":"quantitative","axis":null},"text":{"field":"s"}}}
]},
{"width":489,"height":64,"resolve":{"axis":{"x":"independent","y":"independent"}},
"layer":[
{"data":{"values":[{"s":3000,"e":4400}]},"mark":{"type":"rect","color":"#e8e8e8"},"encoding":{"x":{"field":"s","type":"quantitative","scale":{"domain":[0,5000],"nice":false},"axis":{"orient":"bottom","tickCount":50,"format":"d","labelExpr":"datum.value % 1000 === 0 ? datum.label : ''","tickSize":{"condition":{"test":"datum.value % 1000 === 0","value":-6},"value":-3},"labelPadding":10,"title":"Time (ms)","titlePadding":4}},"x2":{"field":"e"}}},
{"data":{"name":"f_k"},"mark":{"type":"line","color":"#000","strokeWidth":1},"encoding":{"x":{"field":"t","type":"quantitative","scale":{"domain":[0,5000],"nice":false},"axis":null},"y":{"field":"v","type":"quantitative","scale":{"domain":[0,6.4],"nice":false,"zero":false},"axis":{"orient":"left","values":[1.5,3,4.5],"format":".1f","labelExpr":"datum.value == 1.5 || datum.value == 4.5 ? datum.label : ''","tickSize":{"condition":{"test":"datum.value == 1.5 || datum.value == 4.5","value":-7},"value":-4},"labelPadding":10,"title":"kPa","titleX":-41}}}},
{"data":{"name":"f_r"},"mark":{"type":"line","color":"#ff2a1a","strokeWidth":1},"encoding":{"x":{"field":"t","type":"quantitative","axis":{"orient":"top","tickCount":50,"labels":false,"title":null,"tickSize":{"condition":{"test":"datum.value % 1000 === 0","value":-6},"value":-3}}},"y":{"field":"v","type":"quantitative","axis":{"orient":"right","values":[1.5,3,4.5],"labels":false,"title":null,"tickSize":-4}}}},
{"data":{"values":[{"s":3000,"e":4400,"lo":0,"hi":2.5}]},"mark":{"type":"rect","color":"#e8e8e8","stroke":"#000","strokeWidth":1.5},"encoding":{"x":{"field":"s","type":"quantitative","axis":null},"x2":{"field":"e"},"y":{"field":"lo","type":"quantitative","axis":null},"y2":{"field":"hi"}}},
{"data":{"values":[{"t":3700,"v":0.55,"s":"I-coil (4.4 kA)"}]},"mark":{"type":"text","align":"center","baseline":"alphabetic","fontSize":18,"fontWeight":"bold","font":"Liberation Sans","color":"#000"},"encoding":{"x":{"field":"t","type":"quantitative","axis":null},"y":{"field":"v","type":"quantitative","axis":null},"text":{"field":"s"}}},
{"data":{"values":[{"t":92,"v":4.5,"s":"(f) Electron pedestal"},{"t":378,"v":2.6,"s":"pressure"}]},"mark":{"type":"text","align":"left","baseline":"alphabetic","fontSize":19,"fontWeight":"bold","font":"Liberation Sans","color":"#000"},"encoding":{"x":{"field":"t","type":"quantitative","axis":null},"y":{"field":"v","type":"quantitative","axis":null},"text":{"field":"s"}}}
]}
]
}
